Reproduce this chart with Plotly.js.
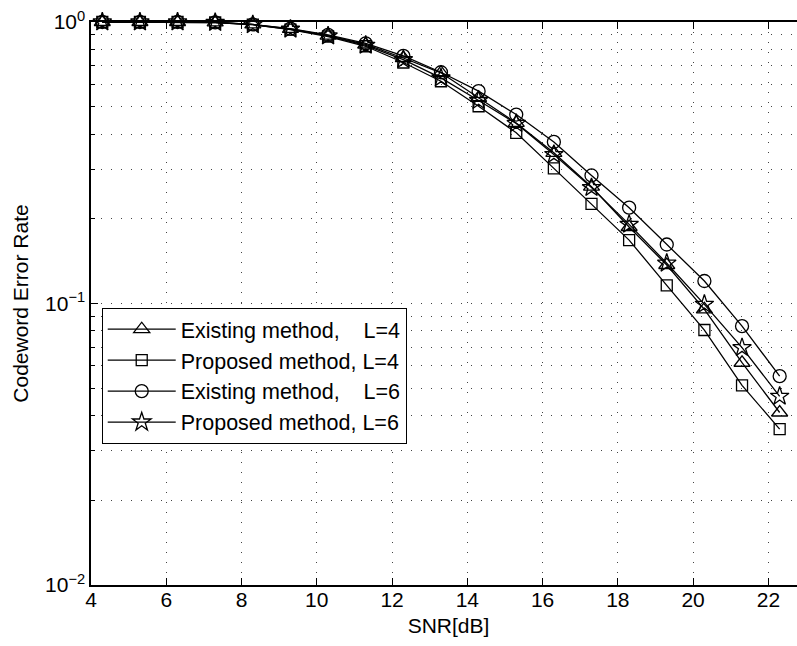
<!DOCTYPE html>
<html>
<head>
<meta charset="utf-8">
<script src="https://cdn.plot.ly/plotly-3.0.1.min.js"></script>
<style>
html, body { margin: 0; padding: 0; overflow: hidden; background: #fff; }
#chart { width: 806px; height: 646px; }
</style>
</head>
<body>
<div id="chart"></div>
<script>
const snr = [4.3, 5.3, 6.3, 7.3, 8.3, 9.3, 10.3, 11.3, 12.3, 13.3, 14.3, 15.3, 16.3, 17.3, 18.3, 19.3, 20.3, 21.3, 22.3];
const existingL4 = [1.0, 1.0, 1.0, 0.997, 0.98, 0.945, 0.895, 0.832, 0.745, 0.66, 0.538, 0.438, 0.343, 0.26, 0.187, 0.137, 0.0953, 0.0616, 0.041];
const proposedL4 = [1.0, 1.0, 1.0, 0.996, 0.978, 0.94, 0.888, 0.82, 0.718, 0.616, 0.502, 0.404, 0.302, 0.226, 0.168, 0.116, 0.0805, 0.0512, 0.0358];
const existingL6 = [1.0, 1.0, 1.0, 0.997, 0.98, 0.947, 0.9, 0.84, 0.758, 0.663, 0.568, 0.469, 0.375, 0.285, 0.219, 0.162, 0.1202, 0.0831, 0.0552];
const proposedL6 = [1.0, 1.0, 1.0, 0.996, 0.978, 0.942, 0.892, 0.826, 0.735, 0.633, 0.526, 0.436, 0.338, 0.258, 0.191, 0.139, 0.0993, 0.0697, 0.0468];

const seriesNames = [
  'Existing method,\u00A0\u00A0\u00A0\u00A0L=4',
  'Proposed method, L=4',
  'Existing method,\u00A0\u00A0\u00A0\u00A0L=6',
  'Proposed method, L=6'
];
const xTickVals = [4, 6, 8, 10, 12, 14, 16, 18, 20, 22];
const yTickVals = [0.01, 0.1, 1];
const yTickText = ['10<sup>\u22122</sup>', '10<sup>\u22121</sup>', '10<sup>0</sup>'];
const yMinorVals = [0.02, 0.03, 0.04, 0.05, 0.06, 0.07, 0.08, 0.09, 0.2, 0.3, 0.4, 0.5, 0.6, 0.7, 0.8, 0.9];

const FONT = 'Liberation Sans, Arial, Helvetica, sans-serif';
const dotDash = '1px,9px';

function mk(y, name, symbol, size) {
  return {
    x: snr, y: y, name: name, type: 'scatter', mode: 'lines+markers', cliponaxis: false,
    line: { color: '#000', width: 1.3 },
    marker: { symbol: symbol, size: size, color: '#000', line: { color: '#000', width: 1.3 } }
  };
}

const data = [
  mk(existingL4, seriesNames[0], 'triangle-up-open', 14),
  mk(proposedL4, seriesNames[1], 'square-open', 11),
  mk(existingL6, seriesNames[2], 'circle-open', 13),
  mk(proposedL6, seriesNames[3], 'star-open', 14)
];

const layout = {
  width: 806, height: 646,
  margin: { l: 91, r: 0, t: 22, b: 61 },
  paper_bgcolor: '#fff', plot_bgcolor: '#fff',
  font: { family: FONT, size: 21, color: '#000' },
  showlegend: true,
  legend: {
    x: 0.015, y: 0.4925, xanchor: 'left', yanchor: 'top',
    bgcolor: '#fff', bordercolor: '#000', borderwidth: 1,
    font: { family: FONT, size: 21.5, color: '#000' },
    itemwidth: 68
  },
  xaxis: {
    range: [4, 23], tickmode: 'array', tickvals: xTickVals,
    ticks: 'inside', ticklen: 7, tickwidth: 1, tickcolor: '#000',
    ticklabelstandoff: -5,
    showline: true, linecolor: '#000', linewidth: 1.6, mirror: 'ticks',
    showgrid: true, gridcolor: '#444', gridwidth: 1, griddash: dotDash,
    zeroline: false,
    title: { text: 'SNR[dB]', font: { family: FONT, size: 21, color: '#000' }, standoff: 8 }
  },
  yaxis: {
    type: 'log', range: [-2, 0], tickmode: 'array', tickvals: yTickVals, ticktext: yTickText,
    ticks: 'inside', ticklen: 7, tickwidth: 1, tickcolor: '#000',
    showline: true, linecolor: '#000', linewidth: 1.6, mirror: 'ticks',
    showgrid: true, gridcolor: '#444', gridwidth: 1, griddash: dotDash,
    zeroline: false,
    minor: { tickmode: 'array', tickvals: yMinorVals, ticks: 'inside', ticklen: 4, tickcolor: '#000',
             showgrid: true, gridcolor: '#444', gridwidth: 1, griddash: dotDash },
    title: { text: 'Codeword Error Rate', font: { family: FONT, size: 21, color: '#000' }, standoff: 11 }
  }
};

Plotly.newPlot('chart', data, layout, { displayModeBar: false, staticPlot: true });
</script>
</body>
</html>
